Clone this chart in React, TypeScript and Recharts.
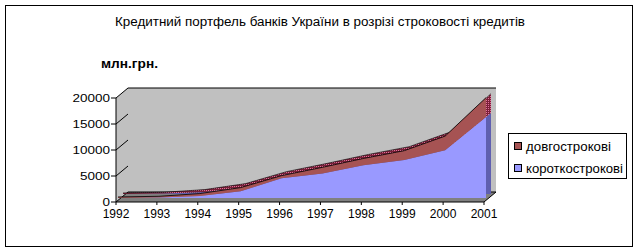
import React from 'react';
import { AreaChart, Area, XAxis, YAxis, CartesianGrid, Legend } from 'recharts';

// ---------- data ----------
const years = ['1992', '1993', '1994', '1995', '1996', '1997', '1998', '1999', '2000', '2001'];
const shortTerm = [20, 80, 400, 1300, 3800, 4700, 6300, 7300, 9200, 15600];
const longTerm = [180, 250, 450, 700, 500, 1200, 1300, 1800, 2700, 3700];
const yTicks = [0, 5000, 10000, 15000, 20000];
const shortName = 'короткострокові';
const longName = 'довгострокові';
const titleText = 'Кредитний портфель банків України в розрізі строковості кредитів';
const unitText = 'млн.грн.';

const data = years.map((y, i) => ({ year: y, short: shortTerm[i], long: longTerm[i] }));

// ---------- layout / style ----------
const W = 640;
const H = 252;
const FONT = '"Liberation Sans", Arial, sans-serif';
const FRONT = { l: 116, r: 484, t: 98, b: 202 };
const WALL = { dx: 12, dy: -10 };
const SLAB = { dx: 2, dy: -4 };
const SLAB_DEPTH = { dx: 5, dy: -4 };
const Y_MAX = 20000;
const COLORS: Record<string, string> = { short: '#9999FF', long: '#A65353' };
const DEPTH_COLORS: Record<string, string> = { short: '#5F5FB0', long: 'url(#redDots)' };
const LEGEND_LEN: Record<string, number> = { short: 97, long: 85 };

const plotMargin = (dx: number, dy: number) => ({
  left: FRONT.l + dx,
  right: W - (FRONT.r + dx),
  top: FRONT.t + dy,
  bottom: H - (FRONT.b + dy),
});

const layer: React.CSSProperties = { position: 'absolute', left: 0, top: 0, width: W, height: H };

const frontY = (v: number) => FRONT.b - (v / Y_MAX) * (FRONT.b - FRONT.t);

const YTick = (p: any) => {
  const s = String(p.payload.value);
  return (
    <text
      x={p.x}
      y={p.y}
      dy="0.355em"
      textAnchor="end"
      fontSize={11}
      fontFamily={FONT}
      fill="#000"
      textLength={s.length * 7.5}
      lengthAdjust="spacingAndGlyphs"
    >
      {s}
    </text>
  );
};

const LegendBox = (props: any) => {
  const order = ['long', 'short'];
  const items = [...(props.payload || [])].sort(
    (a: any, b: any) => order.indexOf(a.dataKey) - order.indexOf(b.dataKey)
  );
  return (
    <svg width={120} height={47} style={{ display: 'block', overflow: 'visible' }}>
      <rect x={0.5} y={0.5} width={118} height={45} fill="#fff" stroke="#000" />
      {items.map((it: any, i: number) => (
        <g key={it.dataKey}>
          <rect x={6.5} y={9.5 + i * 22} width={7} height={7} fill={COLORS[it.dataKey]} stroke="#000" />
          <text
            x={18}
            y={17.5 + i * 22}
            fontSize={12}
            fontFamily={FONT}
            fill="#000"
            textLength={LEGEND_LEN[it.dataKey]}
            lengthAdjust="spacingAndGlyphs"
          >
            {it.value}
          </text>
        </g>
      ))}
    </svg>
  );
};

export default function App() {
  const bl = FRONT.l + WALL.dx;
  const br = FRONT.r + WALL.dx;
  const bt = FRONT.t + WALL.dy;
  const bb = FRONT.b + WALL.dy;
  return (
    <div style={{ position: 'absolute', left: 0, top: 0, width: W, height: H, background: '#fff' }}>
      {/* base decoration */}
      <svg style={layer} width={W} height={H}>
        <rect x={5.5} y={5.5} width={627} height={241} fill="#fff" stroke="#000" />
        <text
          x={320}
          y={26}
          textAnchor="middle"
          fontSize={12}
          fontFamily={FONT}
          fill="#000"
          textLength={410}
          lengthAdjust="spacingAndGlyphs"
        >
          {titleText}
        </text>
        <text
          x={101}
          y={68}
          fontSize={12}
          fontWeight="bold"
          fontFamily={FONT}
          fill="#000"
          textLength={57}
          lengthAdjust="spacingAndGlyphs"
        >
          {unitText}
        </text>
        <polygon
          points={`${FRONT.l},${FRONT.b} ${FRONT.l},${FRONT.t} ${bl},${bt} ${br},${bt} ${br},${bb} ${FRONT.r},${FRONT.b}`}
          fill="#C0C0C0"
        />
        <polygon
          points={`${FRONT.l},${FRONT.b} ${bl},${bb} ${br},${bb} ${FRONT.r},${FRONT.b}`}
          fill="#808080"
        />
        {yTicks.map((v) => (
          <line
            key={v}
            x1={FRONT.l}
            y1={frontY(v)}
            x2={bl}
            y2={frontY(v) + WALL.dy}
            stroke="#000"
            strokeWidth={1}
          />
        ))}
        <line x1={FRONT.r} y1={FRONT.b} x2={br} y2={bb} stroke="#000" strokeWidth={1} />
      </svg>

      {/* back wall gridlines */}
      <div style={layer}>
        <AreaChart width={W} height={H} data={data} margin={plotMargin(WALL.dx, WALL.dy)}>
          <CartesianGrid vertical={false} stroke="#000" strokeWidth={1} />
          <XAxis dataKey="year" hide padding={{ left: 0, right: 0 }} />
          <YAxis
            domain={[0, Y_MAX]}
            ticks={yTicks}
            width={0}
            axisLine={false}
            tickLine={false}
            tick={false}
          />
          <Area dataKey="short" stroke="none" fill="none" isAnimationActive={false} />
        </AreaChart>
      </div>

      {/* front axes */}
      <div style={layer}>
        <AreaChart
          width={W}
          height={H}
          data={data}
          margin={{ left: FRONT.l - 60, right: W - FRONT.r, top: FRONT.t, bottom: H - FRONT.b - 30 }}
        >
          <XAxis
            dataKey="year"
            height={30}
            interval={0}
            padding={{ left: 0, right: 0 }}
            axisLine={{ stroke: '#000' }}
            tickLine={{ stroke: '#000' }}
            tickSize={3}
            tickMargin={4}
            tick={{ fontSize: 12, fontFamily: FONT, fill: '#000' }}
          />
          <YAxis
            domain={[0, Y_MAX]}
            ticks={yTicks}
            width={60}
            interval={0}
            axisLine={{ stroke: '#000' }}
            tickLine={{ stroke: '#000' }}
            tickSize={5}
            tickMargin={1}
            tick={YTick}
          />
          <Area dataKey="short" stroke="none" fill="none" isAnimationActive={false} />
        </AreaChart>
      </div>

      {/* slab depth (top and side faces) */}
      <div style={layer}>
        <AreaChart width={W} height={H} data={data} margin={plotMargin(SLAB.dx + SLAB_DEPTH.dx, SLAB.dy + SLAB_DEPTH.dy)}>
          <defs>
            <pattern id="redDots" width={2} height={2} patternUnits="userSpaceOnUse">
              <rect x={0} y={0} width={2} height={2} fill="#7A2038" />
              <rect x={0} y={0} width={1} height={1} fill="#E0709A" />
            </pattern>
          </defs>
          <XAxis dataKey="year" hide padding={{ left: 0, right: 0 }} />
          <YAxis domain={[0, Y_MAX]} hide />
          <Area
            type="linear"
            dataKey="short"
            stackId="1"
            stroke="none"
            fill={DEPTH_COLORS.short}
            fillOpacity={1}
            isAnimationActive={false}
          />
          <Area
            type="linear"
            dataKey="long"
            stackId="1"
            stroke="#000"
            strokeWidth={0.6}
            fill={DEPTH_COLORS.long}
            fillOpacity={1}
            isAnimationActive={false}
          />
        </AreaChart>
      </div>

      {/* front faces + legend */}
      <div style={layer}>
        <AreaChart width={W} height={H} data={data} margin={plotMargin(SLAB.dx, SLAB.dy)}>
          <XAxis dataKey="year" hide padding={{ left: 0, right: 0 }} />
          <YAxis domain={[0, Y_MAX]} hide />
          <Area
            type="linear"
            dataKey="short"
            name={shortName}
            stackId="1"
            stroke="none"
            fill={COLORS.short}
            fillOpacity={1}
            isAnimationActive={false}
          />
          <Area
            type="linear"
            dataKey="long"
            name={longName}
            stackId="1"
            stroke="#000"
            strokeWidth={0.8}
            fill={COLORS.long}
            fillOpacity={1}
            isAnimationActive={false}
          />
          <Legend
            layout="vertical"
            align="center"
            verticalAlign="middle"
            content={LegendBox}
            wrapperStyle={{ left: 508, top: 133, width: 120, height: 47 }}
          />
        </AreaChart>
      </div>
    </div>
  );
}
